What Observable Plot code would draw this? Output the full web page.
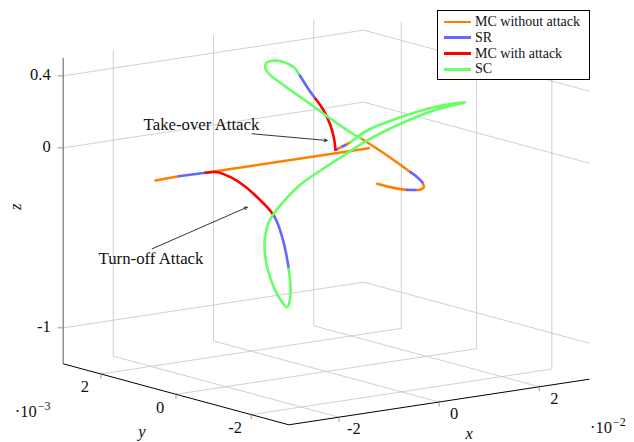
<!DOCTYPE html>
<html><head><meta charset="utf-8">
<script src="https://cdn.jsdelivr.net/npm/d3@7"></script>
<script src="https://cdn.jsdelivr.net/npm/@observablehq/plot@0.6"></script>
<style>
body{margin:0;background:#fff;}
#wrap{position:relative;width:634px;height:442px;overflow:hidden;background:#fff;}
#legend{position:absolute;left:437px;top:10px;width:153px;height:70px;border:1.2px solid #000;background:#fff;
 font-family:"Liberation Serif",serif;font-size:14px;box-sizing:border-box;padding-top:3px;color:#111;}
.item{display:flex;align-items:center;height:15.8px;white-space:nowrap;}
.sw{width:27px;height:2.6px;margin-left:6px;margin-right:4px;}
</style></head><body>
<div id="wrap"><div id="chart"></div><div id="legend"></div></div>
<script>
// ---- axes (x in units of 10^-2, y in units of 10^-3, as on the tick labels) ----
const xDomain = [-3, 3];
const yDomain = [-3, 3];
const zDomain = [-1.2, 0.5];
const xTicks = [-2, 0, 2];
const yTicks = [-2, 0, 2];
const zTicks = [-1, 0, 0.4];
const xTickLabels = ["-2", "0", "2"];
const yTickLabels = ["-2", "0", "2"];
const zTickLabels = ["-1", "0", "0.4"];
const xExponent = "−2";
const yExponent = "−3";

// ---- series: segments of [x, y, z] ----
const mcWithoutAttack = [
  [[-2.659,1,-0.0831],[-2.194,1,-0.0789]],
  [[-1.661,1,-0.0825],[0.848,0,0.0047]],
  [[-0.533,-1,0.114],[-0.427,-1,0.1246]],
  [[-0.367,-1,0.1303],[-0.2675,-1,0.1417]],
  [[0.6826,0,0.0684],[1.2156,0,-0.0513],[1.6806,0,-0.1637]],
  [[1.9142,0,-0.2292],[1.9461,0,-0.2583],[1.8603,0,-0.2691],[1.7804,0,-0.2668]],
  [[1.6108,0,-0.2591],[1.481,0,-0.2492],[1.2415,0,-0.2258],[1.016,0,-0.2001]]
];
const sr = [
  [[-2.194,1,-0.0789],[-1.661,1,-0.0825]],
  [[-0.297,1,-0.3773],[-0.2295,1,-0.4174],[-0.1297,1,-0.5049],[-0.0639,1,-0.5816],[0.002,1,-0.686]],
  [[-0.567,-1,0.1121],[-0.533,-1,0.114]],
  [[-0.427,-1,0.1246],[-0.367,-1,0.1303]],
  [[-0.2156,0,0.3241],[-0.006,0.5,0.3515],[0.2016,1,0.3889]],
  [[1.6806,0,-0.1637],[1.8104,0,-0.1959],[1.9142,0,-0.2292]],
  [[1.7804,0,-0.2668],[1.6108,0,-0.2591]]
];
const mcWithAttack = [
  [[-1.661,1,-0.0825],[-1.427,1,-0.089],[-1.162,1,-0.128],[-0.896,1,-0.1853],[-0.629,1,-0.2616],[-0.429,1,-0.3256],[-0.297,1,-0.3773]],
  [[-0.567,-1,0.1121],[-0.4507,-0.8,0.1659],[-0.3665,-0.6,0.216],[-0.3162,-0.4,0.2676],[-0.2659,-0.2,0.3003],[-0.2156,0,0.3241]]
];
const sc = [
  [[0.002,1,-0.686],[0.0359,1,-0.7897],[0.026,1,-0.8576],[-0.03,1,-0.898],[-0.1297,1,-0.866],[-0.2974,1,-0.7756],
   [-0.4291,1,-0.6589],[-0.483,1,-0.5456],[-0.463,1,-0.4719],[-0.3972,1,-0.4103],[-0.2974,1,-0.3678],[-0.0639,1,-0.2982],
   [-0.1397,0.5,-0.1835],[-0.1158,0,-0.0784],[-0.0918,-0.5,0.021],[0.0659,-1,0.1371],[0.7305,-1,0.2018],[1.395,-1,0.2476],
   [2.028,-1,0.267],[1.395,-1,0.2659],[0.7305,-1,0.2384],[0.0659,-1,0.1926],[-0.2675,-1,0.1417]],
  [[0.2016,1,0.3889],[0.477,1.5,0.3857],[0.2715,1.5,0.4232],[0.0519,1.5,0.4392],[-0.0778,1.5,0.4308],[-0.0918,1.5,0.4052],
   [-0.018,1.5,0.3688],[0.1457,1.5,0.3258],[0.2519,1.2,0.2716],[0.4259,0.9,0.2034],[0.6,0.6,0.1324],[0.699,0.2,0.0759],[0.6826,0,0.0684]]
];
const seriesNames = ["MC without attack", "SR", "MC with attack", "SC"];
const seriesColors = ["#ff8000", "#6666ff", "#ff0000", "#66ff66"];
const seriesData = [mcWithoutAttack, sr, mcWithAttack, sc];

// ---- annotations ----
const annotationLabels = ["Take-over Attack", "Turn-off Attack"];
const annotationAt = [[-2.491,0,0.2757], [-3.499,0,-0.4245]];
const arrowFrom = [[-1.479,0,0.183], [-3.475,0,-0.3716]];
const arrowTo = [[0.018,0,0.0826], [-1.579,0,-0.2206]];

// ---- view (projected axis box) ----
const corner0 = [288.3, 424.3];            // (xmin, ymin, zmin)
const edgeX = [300.6, -45.6], edgeY = [-225.6, -61.0], edgeZ = [0, -306];
function P([x, y, z]) {
  const u = (x - xDomain[0]) / (xDomain[1] - xDomain[0]);
  const v = (y - yDomain[0]) / (yDomain[1] - yDomain[0]);
  const w = (z - zDomain[0]) / (zDomain[1] - zDomain[0]);
  return [corner0[0] + u*edgeX[0] + v*edgeY[0] + w*edgeZ[0],
          corner0[1] + u*edgeX[1] + v*edgeY[1] + w*edgeZ[1]];
}
const [x0, x1] = xDomain, [y0, y1] = yDomain, [z0, z1] = zDomain;

// grid segments
const grid = [];
for (const t of xTicks) { grid.push([[t,y1,z0],[t,y1,z1]]); grid.push([[t,y0,z0],[t,y1,z0]]); }
for (const t of yTicks) { grid.push([[x1,t,z0],[x1,t,z1]]); grid.push([[x0,t,z0],[x1,t,z0]]); }
for (const t of zTicks) { grid.push([[x0,y1,t],[x1,y1,t]]); grid.push([[x1,y1,t],[x1,y0,t]]); }
const axisBlack = [[[x0,y1,z0],[x0,y0,z0]], [[x0,y0,z0],[x1,y0,z0]]];
const axisZ = [[[x0,y1,z0],[x0,y1,z1]]];

const link = (data, opts) => Plot.link(data, {x1: d => P(d[0])[0], y1: d => P(d[0])[1], x2: d => P(d[1])[0], y2: d => P(d[1])[1], ...opts});
const lineRows = (segs, name) => segs.flatMap((s, i) => s.map(p => ({seg: name + i, p})));

const xTickRows = xTicks.map((t, i) => ({p: [t, y0, z0], label: xTickLabels[i]}));
const yTickRows = yTicks.map((t, i) => ({p: [x0, t, z0], label: yTickLabels[i]}));
const zTickRows = zTicks.map((t, i) => ({p: [x0, y1, t], label: zTickLabels[i]}));
const FONT = "Liberation Serif";
const txt = (rows, opts) => Plot.text(rows, {x: d => P(d.p)[0], y: d => P(d.p)[1], text: "label", fontFamily: FONT, fontSize: 16.5, fill: "#111", ...opts});

const marks = [
  link(grid, {stroke: "#c4c4c4", strokeWidth: 0.8}),
  link(axisZ, {stroke: "#808080", strokeWidth: 1.3}),
  link(axisBlack, {stroke: "#000", strokeWidth: 1}),
  Plot.link(zTickRows, {x1: d => P(d.p)[0] - 5.5, x2: d => P(d.p)[0], y1: d => P(d.p)[1], y2: d => P(d.p)[1], stroke: "#808080", strokeWidth: 0.8}),
  Plot.link([...xTickRows, ...yTickRows], {x1: d => P(d.p)[0], x2: d => P(d.p)[0], y1: d => P(d.p)[1] - 1.5, y2: d => P(d.p)[1] + 4.5, stroke: "#808080", strokeWidth: 0.8}),
];
seriesData.forEach((segs, k) => {
  marks.push(Plot.line(lineRows(segs, seriesNames[k]), {x: d => P(d.p)[0], y: d => P(d.p)[1], z: "seg",
    stroke: seriesColors[k], strokeWidth: 2.6, curve: "catmull-rom", strokeLinejoin: "round"}));
});
const xMulAt = [{p: [x1, y0, z0], label: "·10"}], xExpAt = [{p: [x1, y0, z0], label: xExponent}];
const yMulAt = [{p: [x0, y1, z0], label: "·10"}], yExpAt = [{p: [x0, y1, z0], label: yExponent}];
marks.push(
  txt(zTickRows, {textAnchor: "end", dx: -12.5, dy: -1.5}),
  txt(yTickRows, {textAnchor: "middle", dx: -16, dy: 13}),
  txt(xTickRows, {textAnchor: "middle", dx: 15, dy: 11.7}),
  txt(xMulAt, {textAnchor: "end", dx: 22.5, dy: 48.5}),
  txt(xExpAt, {textAnchor: "start", dx: 23.5, dy: 43, fontSize: 12}),
  txt(yMulAt, {textAnchor: "end", dx: -26.5, dy: 48}),
  txt(yExpAt, {textAnchor: "start", dx: -25.5, dy: 42.5, fontSize: 12}),
  txt([{p: [0, y0, z0], label: "x"}], {fontStyle: "italic", dx: 30, dy: 32}),
  txt([{p: [x0, 0, z0], label: "y"}], {fontStyle: "italic", dx: -34, dy: 37}),
  txt([{p: [x0, y1, (z0 + z1) / 2], label: "z"}], {fontStyle: "italic", rotate: -90, dx: -47, dy: -4}),
  txt(annotationLabels.map((l, i) => ({p: annotationAt[i], label: l})), {textAnchor: "middle", fontSize: 16.8}),
  Plot.arrow(annotationLabels.map((l, i) => ({a: P(arrowFrom[i]), b: P(arrowTo[i])})),
    {x1: d => d.a[0], y1: d => d.a[1], x2: d => d.b[0], y2: d => d.b[1], stroke: "#000", strokeWidth: 0.8, headLength: 6, headAngle: 50})
);

const chart = Plot.plot({
  width: 634, height: 442, margin: 0,
  x: {domain: [0, 634], range: [0, 634], axis: null},
  y: {domain: [0, 442], range: [0, 442], axis: null},
  style: {background: "white", fontFamily: FONT},
  marks
});
document.getElementById("chart").appendChild(chart);

const legend = document.getElementById("legend");
seriesNames.forEach((n, k) => {
  const it = document.createElement("div"); it.className = "item";
  const sw = document.createElement("span"); sw.className = "sw"; sw.style.background = seriesColors[k];
  const t = document.createElement("span"); t.textContent = n;
  it.appendChild(sw); it.appendChild(t); legend.appendChild(it);
});
</script>
</body></html>
